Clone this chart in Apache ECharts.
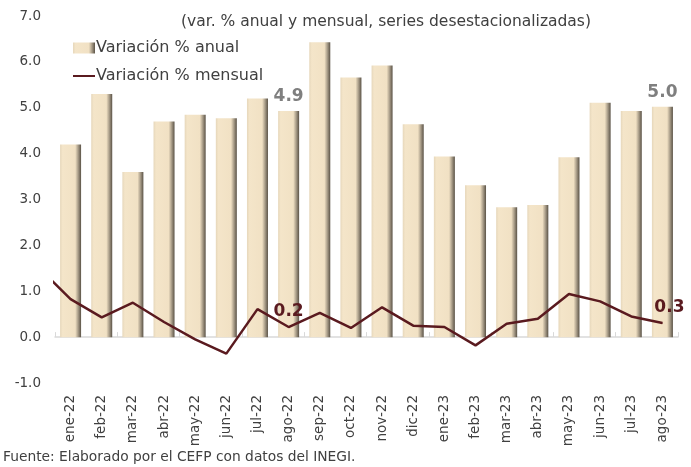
<!DOCTYPE html>
<html>
<head>
<meta charset="utf-8">
<script src="https://cdn.jsdelivr.net/npm/echarts@6/dist/echarts.min.js"></script>
<style>
html,body{margin:0;padding:0;background:#fff;}
#chart{width:691px;height:467px;}
</style>
</head>
<body>
<div id="chart"></div>
<script>
// categorias (meses)
var meses = ['ene-22','feb-22','mar-22','abr-22','may-22','jun-22','jul-22','ago-22','sep-22','oct-22',
	'nov-22','dic-22','ene-23','feb-23','mar-23','abr-23','may-23','jun-23','jul-23','ago-23'];
// variacion % anual (barras)
var anual = [4.2, 5.3, 3.6, 4.7, 4.85, 4.77, 5.2, 4.93, 6.43, 5.66, 5.92, 4.64, 3.94, 3.31, 2.83, 2.88, 3.92, 5.11, 4.93, 5.02];
// variacion % mensual (linea); el primer valor es dic-21, queda recortado en el borde
var mensualPrevio = 1.5;
var mensual = [0.83, 0.43, 0.75, 0.33, -0.05, -0.36, 0.61, 0.22, 0.53, 0.2, 0.65, 0.25, 0.22, -0.18, 0.29, 0.4, 0.94, 0.78, 0.45, 0.31];
var yTicks = [-1, 0, 1, 2, 3, 4, 5, 6, 7];
var etiquetasBarra = {7: '4.9', 19: '5.0'};
var etiquetasLinea = {7: '0.2', 19: '0.3'};

var fuente = 'DejaVu Sans';
var myChart = echarts.init(document.getElementById('chart'));

var barColor = new echarts.graphic.LinearGradient(0, 0, 1, 0, [
	{offset: 0, color: '#e6d7bb'},
	{offset: 0.12, color: '#f4e5c9'},
	{offset: 0.72, color: '#f1e1c4'},
	{offset: 0.86, color: '#a89c88'},
	{offset: 1, color: '#5a5246'}
]);

var barData = anual.map(function (v, i) {
	var d = {value: v};
	if (etiquetasBarra[i]) {
		d.label = {show: true, position: 'top', distance: 6, formatter: etiquetasBarra[i],
			color: '#7f7f7f', fontWeight: 'bold', fontSize: 17, fontFamily: fuente};
	}
	return d;
});

var lineData = [{value: [-1, mensualPrevio]}];
mensual.forEach(function (v, i) {
	var d = {value: [i, v]};
	if (etiquetasLinea[i]) {
		d.symbol = 'circle';
		d.symbolSize = 1;
		d.label = {show: true, position: 'top', distance: 6, offset: [i === 19 ? 7 : 0, 0],
			formatter: etiquetasLinea[i], color: '#5a1a1f', fontWeight: 'bold', fontSize: 17, fontFamily: fuente};
	}
	lineData.push(d);
});

var option = {
	animation: false,
	title: {
		text: '(var. % anual y mensual, series desestacionalizadas)',
		left: 176, top: 9,
		textStyle: {fontFamily: fuente, fontSize: 15.5, fontWeight: 'normal', color: '#404040'}
	},
	legend: {
		orient: 'vertical', left: 68, top: 35, itemGap: 12,
		itemWidth: 22, itemHeight: 11,
		textStyle: {fontFamily: fuente, fontSize: 16, color: '#404040', padding: [0, 0, 0, -4]},
		data: [
			{name: 'Variación % anual', icon: 'rect'},
			{name: 'Variación % mensual', icon: 'path://M0,0 L0,0 M22,11 L22,11 M0,4.5 H22 V6.5 H0 Z'}
		]
	},
	graphic: [{
		type: 'text', left: 3, top: 450,
		style: {text: 'Fuente: Elaborado por el CEFP con datos del INEGI.', fontFamily: fuente, fontSize: 13.8, fill: '#404040'}
	}],
	grid: {left: 55, right: 13, top: 16, bottom: 84},
	xAxis: [{
		type: 'category', data: meses,
		axisLine: {show: false, onZero: false}, axisTick: {show: false},
		axisLabel: {rotate: 90, margin: 12, fontFamily: fuente, fontSize: 13.5, color: '#404040'}
	}, {
		type: 'category', data: meses,
		axisLine: {onZero: true, lineStyle: {color: '#d9d9d9', width: 1.5}},
		axisTick: {show: true, length: 5, lineStyle: {color: '#d9d9d9'}},
		axisLabel: {show: false}
	}, {
		type: 'value', min: -0.5, max: meses.length - 0.5, show: false
	}],
	yAxis: {
		type: 'value', min: yTicks[0], max: yTicks[yTicks.length - 1], interval: 1,
		axisLine: {show: false}, axisTick: {show: false}, splitLine: {show: false},
		axisLabel: {margin: 14, fontFamily: fuente, fontSize: 13.5, color: '#404040',
			formatter: function (v) { return v.toFixed(1); }}
	},
	series: [{
		name: 'Variación % anual', type: 'bar', xAxisIndex: 0,
		barWidth: 21, data: barData,
		itemStyle: {color: barColor}
	}, {
		name: 'Variación % mensual', type: 'line', xAxisIndex: 2,
		data: lineData, clip: true, symbol: 'none',
		lineStyle: {color: '#5a1a1f', width: 2.5},
		itemStyle: {color: '#5a1a1f'},
		z: 5
	}]
};
myChart.setOption(option);
</script>
</body>
</html>
